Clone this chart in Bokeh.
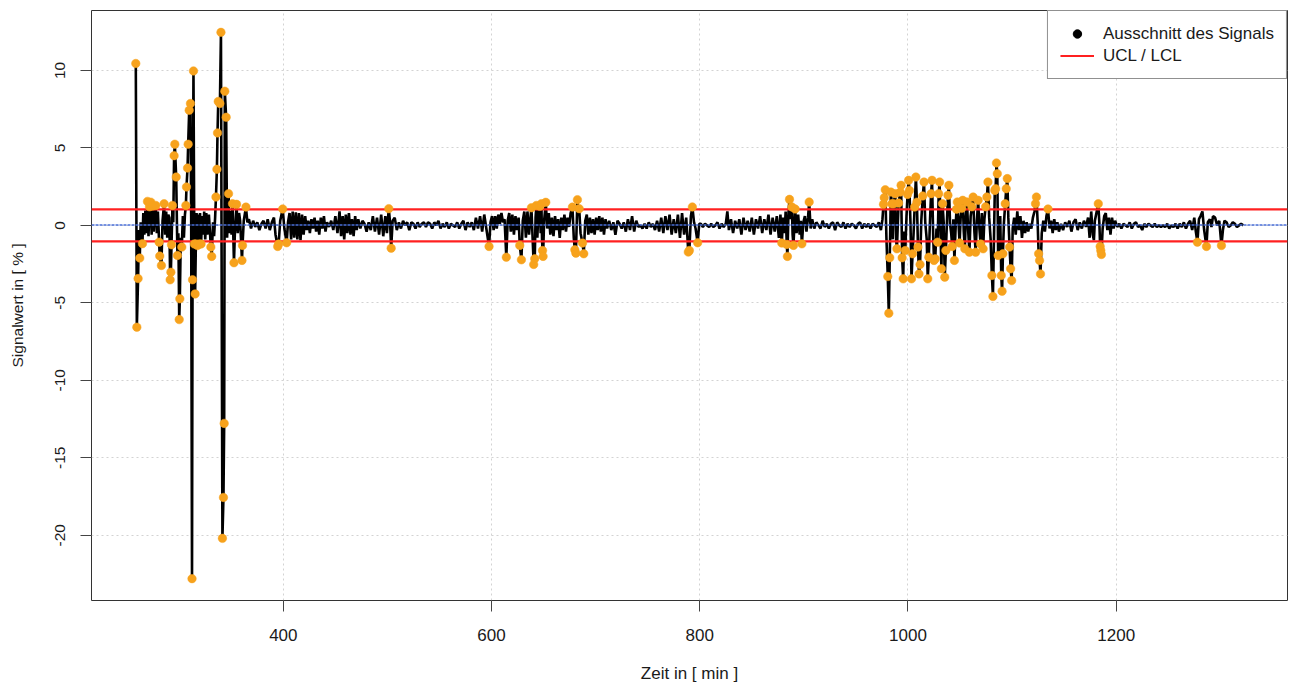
from bokeh.plotting import figure
from bokeh.models import Range1d, FixedTicker, Legend, LegendItem, ColumnDataSource
from bokeh.embed import file_html
from bokeh.resources import INLINE

# ---- data: (time in min, signal value in %) ----
seg_a = [(258.3, 10.45), (259.3, -6.57), (260.5, -3.43), (261.3, -0.3), (262.1, -2.11), (263.0, 0.2),
         (264.7, -1.18), (265.5, 0.8), (266.5, -0.6), (267.5, 0.95), (268.5, -0.5), (269.5, 1.55),
         (270.5, -0.7), (271.5, 1.2), (272.7, 1.5), (273.5, -0.6), (274.5, 1.25), (275.5, -0.4),
         (276.5, 0.95), (277.5, 1.29), (278.5, -0.5), (279.5, 0.9), (280.7, -1.08), (281.3, -1.98),
         (282.9, -2.59), (284.0, 0.3), (285.5, 1.40), (286.5, -0.6), (287.5, 0.9), (288.5, -0.8),
         (289.5, 0.7), (290.5, 0.5), (291.3, -3.51), (292.0, -3.02), (292.6, -1.25), (293.5, 1.29),
         (294.3, 0.2), (295.1, 4.50), (295.8, 5.24), (297.1, 3.12), (298.3, -1.94), (299.2, -0.5),
         (300.0, -6.08), (300.6, -4.74), (301.5, -0.8), (302.5, -1.4), (303.5, 0.6), (304.5, -0.8),
         (305.5, 0.7), (306.4, 1.29), (307.0, 2.48), (308.0, 3.70), (308.6, 5.24), (309.6, 7.43),
         (310.8, 7.87), (311.5, 0.5), (312.3, -22.8), (312.8, -3.51), (313.7, 9.97), (314.5, -1.2),
         (315.3, -4.42), (316.0, -1.2), (316.7, 0.8), (317.5, -1.3), (318.3, 0.7), (319.1, -1.2),
         (320.0, 0.8), (321.0, -1.2), (322.0, 0.6), (323.0, -0.6), (324.0, 0.9), (325.0, -0.9),
         (326.0, 0.8), (327.0, -0.6), (328.5, 0.7), (330.4, -1.4), (331.2, -2.0), (332.5, 0.2),
         (333.5, -0.7), (334.5, 0.5), (335.3, 1.83), (336.2, 3.62), (336.8, 5.97), (337.5, 8.0),
         (339.1, 7.87), (340.1, 12.46), (341.5, -20.2), (342.5, -17.56), (343.2, -12.78), (343.8, 8.66),
         (345.1, 6.98), (346.0, -0.8), (347.4, 2.05), (348.3, -0.5), (349.2, 0.95), (350.3, -0.6),
         (351.2, 1.40), (352.6, -2.41), (353.5, -0.4), (355.1, 1.36), (356.2, -0.5), (357.5, 0.8),
         (358.5, 0.3), (360.3, -2.26), (360.8, -1.29), (362.0, 0.3), (364.1, 1.18), (365.5, 0.2),
         (367.0, 0.4)]

seg_b = [(369, -0.2), (371, 0.3), (373, -0.1), (375, 0.2), (377, -0.3), (379, 0.1), (381, 0.3),
         (383, -0.2), (385, 0.4), (387, -0.3), (389, 0.2), (391, 0.5), (392.5, -0.6), (394.6, -1.36),
         (395.5, -1.2), (397, 0.3), (399.4, 1.06), (401, -0.2), (403.2, -1.12), (404.5, 0.2), (406, 0.8),
         (407.5, -0.9), (409, 0.9), (410.5, -0.8), (412, 0.85), (413.5, -0.9), (415, 0.8), (416.5, -0.95),
         (418, 0.7), (419.5, -0.6), (421, 0.6), (422.5, -0.3), (424, 0.3), (425.5, -0.5), (427, 0.4),
         (428.5, -0.2), (430, 0.5), (431.5, -0.4), (433, 0.3), (434.5, -0.6), (436, 0.5), (437.5, -0.2),
         (439, 0.6), (440.5, -0.4), (442, 0.2), (444, -0.1), (446, 0.3), (448, -0.3), (450, 0.6),
         (452, -0.5), (454, 0.9), (455.5, -0.7), (457, 0.6), (458.5, -0.9), (460, 0.7), (461.5, -0.5),
         (463, 0.8), (464.5, -0.6), (466, 0.4), (467.5, -0.7), (469, 0.6), (470.5, -0.3), (472, 0.4),
         (474, -0.2), (476, 0.3), (478, 0.1), (480, -0.4), (482, 0.2), (484, -0.3), (486, 0.6),
         (488, -0.4), (490, 0.5), (492, -0.6), (494, 0.7), (496, -0.7), (498, 0.6), (499.5, -0.5),
         (501.3, 1.08), (502.5, 0.2), (503.6, -1.47), (505, 0.3), (507, 0.5), (509, -0.3), (511, 0.2),
         (513, -0.2), (515, 0.3), (517, 0.0), (519, 0.2), (521, -0.3), (523, 0.2), (525, 0.1),
         (527, -0.2), (529, 0.2), (531, -0.1), (533, 0.1), (535, 0.2)]

seg_c = [(537, -0.1), (539, 0.2), (541, 0.1), (543, -0.2), (545, 0.2), (547, 0.0), (549, 0.3),
         (551, -0.2), (553, 0.1), (555, -0.1), (557, 0.2), (559, -0.2), (561, 0.1), (563, 0.0),
         (565, -0.1), (567, 0.2), (569, -0.2), (571, 0.1), (573, 0.3), (575, -0.3), (577, 0.2),
         (579, -0.1), (581, 0.2), (583, -0.3), (585, 0.5), (587, -0.2), (589, 0.6), (591, -0.4),
         (593, 0.7), (595, -0.2), (597.6, -1.36), (599, 0.2), (600.5, 0.6), (602, -0.3), (603.5, 0.6),
         (605, -0.2), (606.5, 0.7), (608, 0.1), (609.5, 0.8), (611, 0.2), (612.5, 0.4), (614.2, -2.05),
         (615.5, 0.3), (617, 0.8), (618.5, -0.4), (620, 0.7), (621.5, -0.6), (623, 0.6), (624.5, -0.3),
         (626, 0.5), (627.1, -1.29), (628.7, -2.22), (630, 0.3), (631.5, 0.9), (633, -0.8), (634.5, 0.9),
         (636, -0.6), (638.3, 1.14), (639.5, -0.9), (640.5, -2.52), (641.5, -2.15), (642.3, 0.5),
         (643.1, 1.29), (644, -0.8), (645, 0.9), (646.3, 1.23), (647.2, -0.5), (647.9, 1.40),
         (648.5, -0.9), (649, -1.62), (649.5, -2.0), (650.5, 0.3), (652.1, 1.49), (653.5, -0.2),
         (655, 0.8), (656.5, -0.6), (658, 0.5), (659.5, -0.7), (661, 0.6), (662.5, -0.3), (664, 0.4),
         (665.5, -0.8), (667, 0.5), (668.5, -0.3), (670, 0.7), (671.5, -0.4), (673, 0.5), (674.5, -0.1),
         (676, 0.8), (677.7, 1.18), (679, -0.8), (680, -1.57), (681, -1.79), (682.5, 1.66), (683.3, 0.9),
         (684.2, 1.08), (685.5, -0.5), (687.4, -1.14), (688.6, -1.83), (690, 0.3), (691.5, 0.7),
         (693, -0.6), (694.5, 0.5), (696, -0.5), (697.5, 0.4), (699, -0.6), (700.5, 0.5), (702, -0.3),
         (703.5, 0.6), (705, -0.4), (706.5, 0.5), (708, -0.6), (709.5, 0.4), (711, -0.2), (713, 0.3),
         (715, -0.3), (717, 0.2), (719, -0.6), (721, 0.3), (723, 0.1), (725, -0.2), (727, 0.2),
         (729, -0.4), (731, 0.4), (733, -0.3), (735, 0.6), (737, -0.4), (739, 0.3), (741, -0.1),
         (743, 0.0), (745, -0.2)]

seg_d = [(747, 0.1), (749, -0.2), (751, 0.2), (753, -0.1), (755, 0.1), (757, -0.3), (759, 0.3),
         (761, -0.4), (763, 0.5), (765, -0.5), (767, 0.6), (769, -0.3), (771, 0.7), (773, -0.6),
         (775, 0.4), (777, -0.5), (779, 0.7), (781, -0.8), (783, 0.8), (785, -0.6), (787, 0.5),
         (789, -1.72), (790, -1.62), (791.5, 0.6), (792.9, 1.19), (794.5, 0.2), (796, -0.2),
         (798, -1.12), (799.5, 0.1), (801, 0.1), (803, -0.1), (805, 0.1), (807, 0.0), (809, -0.1),
         (811, 0.1), (813, -0.1), (815, 0.0), (817, 0.2), (819, -0.2), (821, 0.1), (823, -0.1),
         (825, 0.1), (826.5, 0.9), (828, -0.3), (830, 0.4), (832, -0.5), (834, 0.3), (836, -0.2),
         (838, 0.4), (840, -0.6), (842, 0.5), (844, -0.3), (846, 0.3), (848, -0.4), (850, 0.5),
         (852, -0.6), (854, 0.4), (856, -0.2), (858, 0.6), (860, -0.5), (862, 0.4), (864, -0.3),
         (866, 0.7), (868, -0.6), (870, 0.5), (872, -0.4), (874, 0.6), (876, -0.8), (877.5, 0.7),
         (878.8, -1.14), (880, 0.5), (881.5, -0.5), (882.5, 0.9), (883.6, -1.23), (884.2, -2.0),
         (885.2, 0.8), (886.2, 1.68), (887.2, 0.4), (888.5, 1.19), (889.2, -0.6), (890, -1.29),
         (891.6, 1.06), (893, -0.5), (894.5, 0.7), (896, -0.6), (897, 0.3), (898.1, -1.19),
         (899.5, 0.2), (901, 0.6), (902.5, -0.4), (904, 0.5), (905.1, 1.51), (906.5, -0.2), (908, 0.4),
         (910, -0.2), (912, 0.2), (914, 0.0), (916, -0.2), (918, 0.3), (920, -0.1), (922, 0.1),
         (924, -0.2), (926, 0.1), (928, 0.2), (930, -0.3), (932, 0.2), (934, 0.0), (936, -0.1),
         (938, 0.2), (940, -0.2), (942, 0.1), (944, -0.1), (946, 0.1), (948, 0.0), (950, -0.2),
         (952, 0.1), (954, 0.2), (956, -0.2), (958, 0.1), (960, -0.1), (962, 0.1), (964, -0.2),
         (966, 0.1), (968, 0.0), (970, -0.1), (972, 0.2)]

seg_e = [(974, -0.3), (975.5, 0.4), (976.5, 1.36), (977.2, 1.79), (978.2, 2.30), (979.3, -0.8),
         (980.6, -3.30), (981.6, -5.67), (982.5, -2.09), (983.6, 2.15), (984.5, 1.40), (985.4, -0.9),
         (986.2, 1.40), (987.8, 2.05), (988.6, -0.9), (989.4, -1.51), (990.3, 0.2), (991.0, 1.44),
         (992.6, 2.15), (993.4, 2.59), (994.4, -2.09), (995.4, -3.45), (996.4, -0.4), (997.4, -1.62),
         (998.6, 0.6), (999.6, 2.0), (1000.6, 2.91), (1001.4, 2.26), (1002.4, 0.2), (1003.4, -3.45),
         (1004.4, -1.83), (1005.4, -0.5), (1006.4, 1.18), (1007.6, 3.12), (1008.6, 1.5), (1009.6, -1.40),
         (1010.6, -3.13), (1011.6, -2.52), (1012.8, 0.3), (1014.2, 1.9), (1015.4, 2.80), (1016.6, 0.2),
         (1018.0, -0.9), (1019.0, -3.45), (1020.0, -2.05), (1021.2, 0.4), (1022.2, 2.05), (1023.1, 2.91),
         (1024.2, -0.6), (1025.0, -2.26), (1026.2, -2.16), (1027.4, -0.2), (1028.5, -1.08), (1029.5, 2.05),
         (1030.4, 2.80), (1031.3, -0.5), (1032.1, -2.80), (1033.2, 1.40), (1034.3, 0.2), (1035.3, -3.34),
         (1036.4, -1.62), (1037.6, 0.5), (1038.4, 1.94), (1039.3, 2.59), (1040.4, 0.1), (1041.5, -0.5),
         (1042.5, -1.36), (1043.6, 0.4), (1044.6, -2.26), (1045.6, -0.4), (1046.6, 1.05), (1047.4, 1.51),
         (1048.5, 0.2), (1049.6, -1.14), (1050.6, 0.5), (1051.6, 1.1), (1052.6, 1.62), (1053.6, -0.4),
         (1054.6, -1.51), (1055.6, 0.6), (1056.7, 1.51), (1057.8, -0.3), (1059.0, -1.73), (1060.2, 0.6),
         (1061.4, 1.2), (1062.6, 1.83), (1063.8, -0.4), (1065.0, -1.73), (1066.2, 0.3), (1067.4, 1.62),
         (1068.6, -0.2), (1069.8, -1.2), (1071.0, 0.8), (1072.2, -1.51), (1073.4, 0.4), (1074.6, 1.2),
         (1075.8, 1.83), (1076.8, 2.80), (1078.0, 0.5), (1079.4, -0.9), (1080.6, -3.23), (1081.6, -4.59),
         (1082.6, -0.9), (1083.4, 2.26), (1084.2, 2.37), (1085.0, 4.03), (1085.8, 3.34), (1086.6, -1.94),
         (1087.6, -0.5), (1088.6, 0.6), (1089.6, -3.23), (1090.4, -4.25), (1091.2, -1.83), (1092.2, 0.2),
         (1093.4, 1.40), (1094.4, 2.37), (1095.4, 3.02), (1096.4, 0.5), (1097.6, -1.40), (1098.6, -2.80),
         (1099.6, -3.56), (1100.6, -0.2), (1102, 0.5), (1103.5, -0.6), (1105, 0.9), (1106.5, -0.3),
         (1108, 0.6), (1109.5, -0.8), (1111, 0.3), (1112.5, -0.5), (1114, 0.2), (1115.5, -0.4),
         (1117, 0.1), (1118.5, -0.2), (1120, 0.5), (1121.5, 0.9), (1122.5, 1.40), (1123.4, 1.83),
         (1124.5, 0.3), (1125.5, -1.83), (1126.4, -2.26), (1127.3, -3.13), (1128.5, -0.5), (1130, 0.3),
         (1131.5, -0.4), (1133, 0.6), (1134.5, 1.06), (1136, -0.2), (1137.5, 0.3), (1139, -0.5),
         (1140.5, 0.4), (1142, -0.3), (1143.5, 0.2), (1145, -0.4), (1147, 0.1)]

seg_f = [(1149, -0.3), (1151, 0.2), (1153, -0.1), (1155, 0.3), (1157, -0.4), (1159, 0.2), (1161, 0.4),
         (1163, -0.3), (1165, 0.2), (1167, -0.2), (1169, 0.3), (1171, -0.1), (1173, 0.5), (1174.5, -0.8),
         (1176, 0.9), (1177.5, -0.6), (1178.6, -0.95), (1179.5, 0.3), (1181, 0.8), (1182.8, 1.40),
         (1183.8, 0.2), (1184.6, -1.36), (1185.2, -1.62), (1185.8, -1.88), (1187, -0.2), (1188.5, 0.6),
         (1190, 0.8), (1191.5, -0.3), (1193, 0.5), (1194.5, -0.6), (1196, 0.5), (1197.5, -0.2),
         (1199, 0.3), (1201, -0.1), (1203, 0.1), (1205, -0.2), (1207, 0.1), (1209, 0.0), (1211, -0.1),
         (1213, 0.2), (1215, -0.2), (1217, 0.1), (1219, 0.2), (1221, -0.1), (1223, 0.0), (1225, -0.3),
         (1227, 0.1), (1229, -0.1), (1231, 0.1), (1233, 0.0), (1235, -0.1), (1237, 0.1), (1239, -0.1),
         (1241, 0.0), (1243, -0.1), (1245, 0.0), (1247, -0.1), (1249, 0.1), (1251, -0.2), (1253, 0.0),
         (1255, -0.1), (1257, 0.1), (1259, -0.2), (1261, 0.1), (1263, -0.1), (1265, 0.2), (1267, -0.2),
         (1269, 0.1), (1271, 0.3), (1273, -0.3), (1275, 0.5), (1276.5, -0.4), (1278, -1.08),
         (1279.5, 0.4), (1281, 0.6), (1282.8, 0.9), (1284.5, -0.3), (1286.7, -1.36), (1288, 0.2),
         (1290, 0.4), (1291.5, -0.1), (1293, 0.6), (1295, 0.5), (1297, 0.0), (1299, 0.3),
         (1301.1, -1.30), (1302.5, -0.3), (1304, 0.3), (1306, 0.2), (1308, -0.1), (1310, 0.0),
         (1312, 0.2), (1314, 0.1), (1316, -0.1), (1318, 0.0), (1320, 0.1), (1322, 0.0)]

center_line = 0.02
ucl = 1.03
lcl = -1.03
x_ticks = [400, 600, 800, 1000, 1200]
y_ticks = [-20, -15, -10, -5, 0, 5, 10]
legend_labels = ["Ausschnitt des Signals", "UCL / LCL"]

# ---- build ----
pairs = seg_a + seg_b + seg_c + seg_d + seg_e + seg_f
t = [p_[0] for p_ in pairs]
v = [p_[1] for p_ in pairs]
out_t = [ti for ti, vi in pairs if vi > ucl or vi < lcl]
out_v = [vi for ti, vi in pairs if vi > ucl or vi < lcl]

xspan = max(t) - min(t)
yspan = max(v) - min(v)
FONT = "Liberation Sans"
FS_H = "17px"
FS_V = "15.5px"
TXT = "#1a1a1a"

p = figure(width=1290, height=689,
           x_range=Range1d(min(t) - 0.04 * xspan, max(t) + 0.04 * xspan),
           y_range=Range1d(min(v) - 0.04 * yspan, max(v) + 0.04 * yspan),
           output_backend="svg", toolbar_location=None,
           min_border_left=91, min_border_right=3, min_border_top=10, min_border_bottom=89)
p.background_fill_color = "white"
p.border_fill_color = "white"
p.outline_line_color = "#333333"
p.outline_line_width = 1

for ax, ticks in ((p.xaxis, x_ticks), (p.yaxis, y_ticks)):
    ax.ticker = FixedTicker(ticks=ticks)
    ax.major_label_overrides = {k: str(k) for k in ticks}
    ax.axis_line_color = None
    ax.major_tick_out = 11
    ax.major_tick_in = 0
    ax.minor_tick_out = 0
    ax.minor_tick_in = 0
    ax.major_tick_line_color = "#444444"
    ax.major_label_text_font = FONT
    ax.major_label_text_color = TXT
    ax.axis_label_text_font = FONT
    ax.axis_label_text_font_style = "normal"
    ax.axis_label_text_color = TXT

p.xaxis.major_label_text_font_size = FS_H
p.xaxis.axis_label_text_font_size = FS_H
p.yaxis.major_label_text_font_size = FS_V
p.yaxis.axis_label_text_font_size = FS_V

p.xaxis.axis_label = "Zeit in [ min ]"
p.yaxis.axis_label = "Signalwert in [ % ]"
p.xaxis.major_label_standoff = 17
p.xaxis.axis_label_standoff = 20
p.yaxis.major_label_orientation = "vertical"
p.yaxis.major_label_standoff = 15
p.yaxis.axis_label_standoff = 27

p.xgrid.ticker = FixedTicker(ticks=x_ticks)
p.ygrid.ticker = FixedTicker(ticks=y_ticks)
for g in (p.xgrid, p.ygrid):
    g.grid_line_color = "#d3d3d3"
    g.grid_line_dash = "2 3"
    g.grid_line_width = 1

src = ColumnDataSource(dict(t=t, v=v))
p.line("t", "v", source=src, line_color="black", line_width=2.6)

xr0, xr1 = p.x_range.start, p.x_range.end
ucl_r = p.line([xr0, xr1], [ucl, ucl], line_color="#ff2020", line_width=2.2)
p.line([xr0, xr1], [lcl, lcl], line_color="#ff2020", line_width=2.2)
p.line([xr0, xr1], [center_line, center_line], line_color="#4a6fd8", line_width=1.5, line_dash="3 1")

p.scatter(out_t, out_v, size=8.5, fill_color="#f7a21c", line_color="#f7a21c", line_width=0.5)

nan = float("nan")
dummy = p.scatter([nan], [nan], size=8, fill_color="black", line_color="black")
legend = Legend(items=[LegendItem(label=legend_labels[0], renderers=[dummy]),
                       LegendItem(label=legend_labels[1], renderers=[ucl_r])],
                location="top_right", margin=0, padding=12, spacing=1,
                glyph_width=34, glyph_height=21, label_height=21, label_standoff=9,
                label_text_font=FONT, label_text_font_size=FS_H, label_text_color=TXT,
                border_line_color="#222222", border_line_width=1,
                background_fill_color="white", background_fill_alpha=1.0)
p.add_layout(legend)

open("out.html", "w").write(file_html(p, INLINE))
